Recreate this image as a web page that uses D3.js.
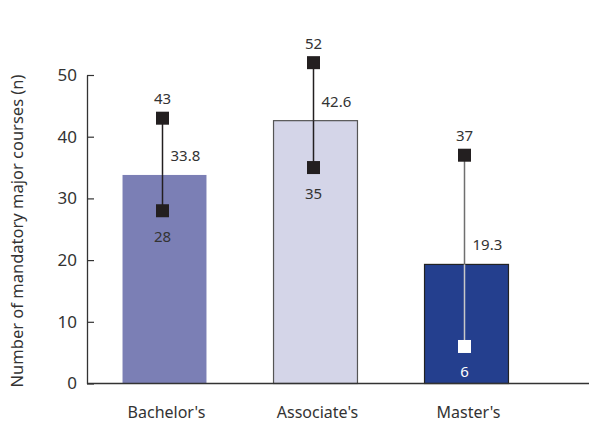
<!DOCTYPE html>
<html>
<head>
<meta charset="utf-8">
<script src="https://cdn.jsdelivr.net/npm/d3@7"></script>
<style>
  html, body { margin: 0; padding: 0; background: #fff; }
  svg { display: block; font-family: "Noto Sans", "DejaVu Sans", sans-serif; }
</style>
</head>
<body>
<svg id="chart" width="589" height="422"></svg>
<script>
// ---- data ----
const categories = ["Bachelor's", "Associate's", "Master's"];
const meanValues = [33.8, 42.6, 19.3];
const maxValues = [43, 52, 37];
const minValues = [28, 35, 6];
const yTicks = [0, 10, 20, 30, 40, 50];
const yLabel = "Number of mandatory major courses (n)";

// ---- styles ----
const barFills = ["#7b7fb5", "#d4d5e8", "#243f8e"];
const barStrokes = ["none", "#555", "#222"];
const lineAbove = ["#231f20", "#231f20", "#6f6f6f"];
const lineInside = ["#231f20", "#231f20", "#c8c8c8"];
const minMarkerFill = ["#231f20", "#231f20", "#ffffff"];
const minLabelFill = ["#333", "#333", "#ffffff"];

const svg = d3.select("#chart");
const x0 = 87, yBase = 383.5, yTop = 75;

const y = d3.scaleLinear().domain([0, 50]).range([yBase, yTop]);
const x = d3.scaleBand().domain(categories).range([89, 542])
  .paddingInner(0.444).paddingOuter(0.222);
const bw = x.bandwidth();
const cx = c => x(c) + bw / 2 - 2;

// bars
svg.append("g").selectAll("rect").data(categories).join("rect")
  .attr("x", c => x(c))
  .attr("y", (c, i) => y(meanValues[i]))
  .attr("width", bw)
  .attr("height", (c, i) => yBase - y(meanValues[i]))
  .attr("fill", (c, i) => barFills[i])
  .attr("stroke", (c, i) => barStrokes[i])
  .attr("stroke-width", 1.2);

// y axis
const yAxis = d3.axisLeft(y).tickValues(yTicks).tickSize(0).tickPadding(10);
const gy = svg.append("g").attr("transform", `translate(${x0},0)`).call(yAxis);
gy.select(".domain").attr("stroke", "#333").attr("stroke-width", 1.3);
gy.selectAll(".tick text").attr("font-size", 17).attr("fill", "#333")
  .attr("font-family", "Noto Sans");
gy.selectAll(".tick").append("line")
  .attr("x1", 0).attr("x2", 7).attr("stroke", "#333").attr("stroke-width", 1.2);

// x axis baseline
svg.append("line").attr("x1", x0).attr("x2", 589)
  .attr("y1", yBase).attr("y2", yBase)
  .attr("stroke", "#333").attr("stroke-width", 1.3);

// x labels
svg.append("g").selectAll("text").data(categories).join("text")
  .attr("x", c => x(c) + bw / 2 + 2)
  .attr("y", 418)
  .attr("text-anchor", "middle")
  .attr("font-size", 16)
  .attr("fill", "#333")
  .text(c => c);

// y label
svg.append("text")
  .attr("transform", `translate(23,231) rotate(-90)`)
  .attr("text-anchor", "middle")
  .attr("font-size", 16.5)
  .attr("fill", "#333")
  .text(yLabel);

// whiskers
const g = svg.append("g");
categories.forEach((c, i) => {
  const xc = cx(c);
  const yMax = y(maxValues[i]), yMin = y(minValues[i]), yMean = y(meanValues[i]);
  g.append("line").attr("x1", xc).attr("x2", xc)
    .attr("y1", yMax).attr("y2", Math.min(yMean, yMin))
    .attr("stroke", lineAbove[i]).attr("stroke-width", 1.5);
  if (yMin > yMean) {
    g.append("line").attr("x1", xc).attr("x2", xc)
      .attr("y1", yMean).attr("y2", yMin)
      .attr("stroke", lineInside[i]).attr("stroke-width", 1.5);
  }
  const s = 13;
  g.append("rect").attr("x", xc - s / 2).attr("y", yMax - s / 2)
    .attr("width", s).attr("height", s).attr("fill", "#231f20");
  g.append("rect").attr("x", xc - s / 2).attr("y", yMin - s / 2)
    .attr("width", s).attr("height", s).attr("fill", minMarkerFill[i]);

  g.append("text").attr("x", xc).attr("y", yMax - 20)
    .attr("text-anchor", "middle").attr("dominant-baseline", "central")
    .attr("font-size", 15).attr("fill", "#333").text(maxValues[i]);
  g.append("text").attr("x", xc).attr("y", yMin + 25)
    .attr("text-anchor", "middle").attr("dominant-baseline", "central")
    .attr("font-size", 15).attr("fill", minLabelFill[i]).text(minValues[i]);
  g.append("text").attr("x", xc + 8).attr("y", yMean - 20)
    .attr("text-anchor", "start").attr("dominant-baseline", "central")
    .attr("font-size", 15).attr("fill", "#333").text(meanValues[i]);
});
</script>
</body>
</html>
